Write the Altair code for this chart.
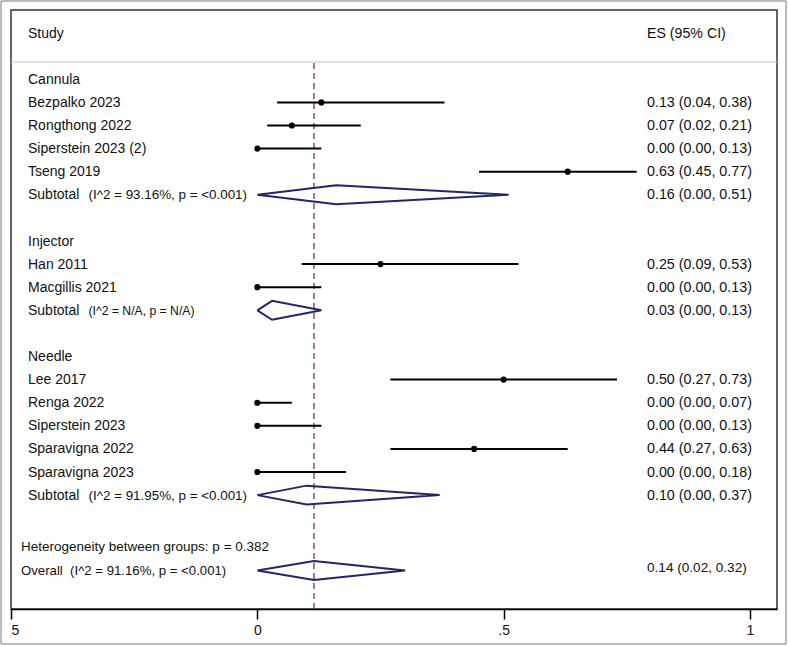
import altair as alt
import pandas as pd

# ---------------- data ----------------
groups = ["Cannula", "Injector", "Needle"]
study_names = ["Bezpalko 2023", "Rongthong 2022", "Siperstein 2023 (2)", "Tseng 2019",
               "Han 2011", "Macgillis 2021",
               "Lee 2017", "Renga 2022", "Siperstein 2023", "Sparavigna 2022", "Sparavigna 2023"]
study_group = ["Cannula"] * 4 + ["Injector"] * 2 + ["Needle"] * 5
study_es = [0.13, 0.07, 0.00, 0.63, 0.25, 0.00, 0.50, 0.00, 0.00, 0.44, 0.00]
study_lo = [0.04, 0.02, 0.00, 0.45, 0.09, 0.00, 0.27, 0.00, 0.00, 0.27, 0.00]
study_hi = [0.38, 0.21, 0.13, 0.77, 0.53, 0.13, 0.73, 0.07, 0.13, 0.63, 0.18]

sub_es = [0.16, 0.03, 0.10]
sub_lo = [0.00, 0.00, 0.00]
sub_hi = [0.51, 0.13, 0.37]
sub_stats = ["(I^2 = 93.16%, p = <0.001)", "(I^2 = N/A, p = N/A)", "(I^2 = 91.95%, p = <0.001)"]
sub_stats_size = [13.4, 12.2, 13.4]

overall_label = "Overall\u00a0\u00a0(I^2 = 91.16%, p = <0.001)"
overall_text = "0.14 (0.02, 0.32)"
# overall diamond as drawn in the picture
overall_es = 0.115
overall_lo = 0.00
overall_hi = 0.30
heterogeneity_text = "Heterogeneity between groups: p = 0.382"

axis_ticks = [-0.5, 0, 0.5, 1]
axis_tick_labels = ["5", "0", ".5", "1"]

# ---------------- layout tables ----------------
FONT = "Liberation Sans"
FOOT_SHIFT = 0.22
HALF = 0.41

left_rows, stats_rows, es_rows, points, rules, diamonds = [], [], [], [], [], []
r = 0
for gi, g in enumerate(groups):
    left_rows.append({"text": g, "row": r, "fs": 14})
    r += 1
    for i, name in enumerate(study_names):
        if study_group[i] != g:
            continue
        left_rows.append({"text": name, "row": r, "fs": 14})
        es_rows.append({"text": f"{study_es[i]:.2f} ({study_lo[i]:.2f}, {study_hi[i]:.2f})", "row": r, "fs": 14.3})
        points.append({"es": study_es[i], "row": r})
        rules.append({"lo": study_lo[i], "hi": study_hi[i], "row": r})
        r += 1
    left_rows.append({"text": "Subtotal", "row": r, "fs": 14})
    stats_rows.append({"text": sub_stats[gi], "row": r, "fs": sub_stats_size[gi]})
    es_rows.append({"text": f"{sub_es[gi]:.2f} ({sub_lo[gi]:.2f}, {sub_hi[gi]:.2f})", "row": r, "fs": 14.3})
    for k, (xv, dy) in enumerate([(sub_lo[gi], 0), (sub_es[gi], -HALF), (sub_hi[gi], 0),
                                  (sub_es[gi], HALF), (sub_lo[gi], 0)]):
        diamonds.append({"id": g, "ord": k, "x": xv, "row": r + dy})
    r += 2  # blank row after each group

het_row = r + FOOT_SHIFT
ov_row = het_row + 1.04
foot_rows = [
    {"text": heterogeneity_text, "row": het_row, "fs": 13.5},
    {"text": overall_label, "row": ov_row, "fs": 13.2},
]
es_rows.append({"text": overall_text, "row": ov_row - 0.14, "fs": 13.6})
for k, (xv, dy) in enumerate([(overall_lo, 0), (overall_es, -HALF), (overall_hi, 0),
                              (overall_es, HALF), (overall_lo, 0)]):
    diamonds.append({"id": "Overall", "ord": k, "x": xv, "row": ov_row + dy})

header_rows = [{"text": "Study", "row": -2, "fs": 14}]
es_header = [{"text": "ES (95% CI)", "row": -2, "fs": 14.2}]

W, H = 766, 599
xscale = alt.Scale(domain=[-0.5, 1.0548], nice=False, zero=False)
yscale = alt.Scale(domain=[-3, 22.93], reverse=True, nice=False, zero=False)

label_expr = " : ".join(
    [f"datum.value == {v} ? '{l}'" for v, l in zip(axis_ticks[:-1], axis_tick_labels[:-1])]
) + f" : '{axis_tick_labels[-1]}'"


def text_layer(rows, xpx):
    return alt.Chart(pd.DataFrame(rows)).mark_text(
        align="left", baseline="middle", font=FONT, color="#111", dy=0.5
    ).encode(
        x=alt.value(xpx),
        y=alt.Y("row:Q", scale=yscale, axis=None),
        text="text:N",
        size=alt.Size("fs:Q", scale=None, legend=None),
    )


frame = alt.Chart(pd.DataFrame({"a": [0]})).mark_rect(
    fillOpacity=0, stroke="#777", strokeWidth=1
).encode(x=alt.value(-10), x2=alt.value(775), y=alt.value(-9), y2=alt.value(634))

sep = alt.Chart(pd.DataFrame({"a": [0]})).mark_rule(color="#c4c4c4", strokeWidth=1).encode(
    x=alt.value(0), x2=alt.value(W), y=alt.value(52)
)

dash = alt.Chart(pd.DataFrame({"v": [overall_es]})).mark_rule(
    color="#8b3a52", strokeWidth=1.4, strokeDash=[6, 4]
).encode(
    x=alt.X("v:Q", scale=xscale,
            axis=alt.Axis(values=axis_ticks, labelExpr=label_expr, title=None, grid=False)),
    y=alt.value(53), y2=alt.value(H)
)

ci = alt.Chart(pd.DataFrame(rules)).mark_rule(color="#000", strokeWidth=2).encode(
    x=alt.X("lo:Q", scale=xscale), x2="hi:Q",
    y=alt.Y("row:Q", scale=yscale, axis=None)
)

pts = alt.Chart(pd.DataFrame(points)).mark_point(
    filled=True, shape="circle", size=38, color="#000", opacity=1
).encode(
    x=alt.X("es:Q", scale=xscale),
    y=alt.Y("row:Q", scale=yscale, axis=None)
)

dia = alt.Chart(pd.DataFrame(diamonds)).mark_line(color="#23256b", strokeWidth=2).encode(
    x=alt.X("x:Q", scale=xscale),
    y=alt.Y("row:Q", scale=yscale, axis=None),
    detail="id:N",
    order="ord:Q",
)

chart = alt.layer(
    frame, sep, dash, ci, pts, dia,
    text_layer(header_rows, 17),
    text_layer(es_header, 636),
    text_layer(left_rows, 17),
    text_layer(stats_rows, 77.5),
    text_layer(es_rows, 636),
    text_layer(foot_rows, 10),
).properties(
    width=W, height=H,
    autosize=alt.AutoSizeParams(type="none"),
    padding={"left": 11, "top": 10, "right": 11, "bottom": 37},
    background="white",
).configure_view(
    stroke="#333", strokeWidth=1.5
).configure_axis(
    domainColor="#000", domainWidth=1.5, tickColor="#000", tickWidth=1.5, tickSize=10,
    labelFont=FONT, labelFontSize=14, labelColor="#111", labelPadding=4, labelFlush=True,
)

chart.save("out.html", embed_options={"renderer": "svg", "actions": False})
